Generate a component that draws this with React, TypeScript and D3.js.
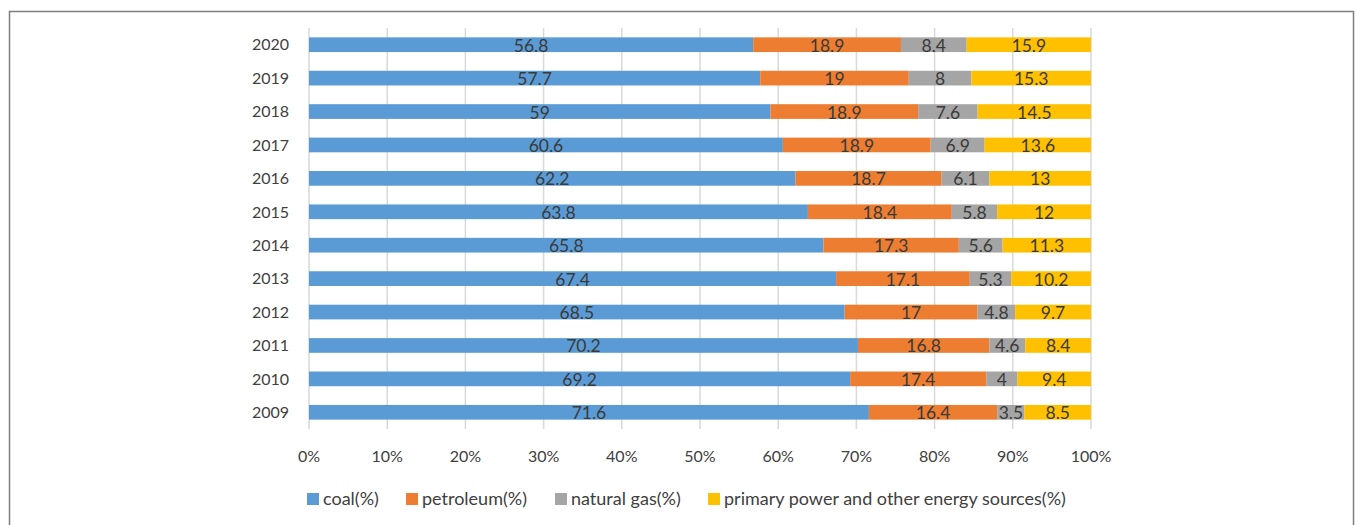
import React from 'react';
import * as d3 from 'd3';

const years = ['2020', '2019', '2018', '2017', '2016', '2015', '2014', '2013', '2012', '2011', '2010', '2009'];
const coal = [56.8, 57.7, 59, 60.6, 62.2, 63.8, 65.8, 67.4, 68.5, 70.2, 69.2, 71.6];
const petroleum = [18.9, 19, 18.9, 18.9, 18.7, 18.4, 17.3, 17.1, 17, 16.8, 17.4, 16.4];
const naturalGas = [8.4, 8, 7.6, 6.9, 6.1, 5.8, 5.6, 5.3, 4.8, 4.6, 4, 3.5];
const primaryPower = [15.9, 15.3, 14.5, 13.6, 13, 12, 11.3, 10.2, 9.7, 8.4, 9.4, 8.5];
const seriesNames = ['coal(%)', 'petroleum(%)', 'natural gas(%)', 'primary power and other energy sources(%)'];
const seriesColors = ['#5B9BD5', '#ED7D31', '#A5A5A5', '#FFC000'];
const xTicks = [0, 0.1, 0.2, 0.3, 0.4, 0.5, 0.6, 0.7, 0.8, 0.9, 1];

const W = 1357;
const H = 525;
const font = 'Lato, "Open Sans", sans-serif';

export default function App() {
  const seriesValues = [coal, petroleum, naturalGas, primaryPower];
  const rows = years.map((y, i) => {
    const row: Record<string, number | string> = { year: y };
    seriesNames.forEach((s, k) => { row[s] = seriesValues[k][i]; });
    return row;
  });
  const stack = d3.stack<Record<string, number | string>>()
    .keys(seriesNames)
    .value((d, key) => (d[key] as number) / d3.sum(seriesNames, k => d[k] as number));
  const stacked = stack(rows);

  const x = d3.scaleLinear().domain([0, 1]).range([309, 1091]);
  const y = d3.scaleBand().domain(years).range([28, 429]).paddingInner(0.56).paddingOuter(0.28);
  const fmt = d3.format('.0%');

  // legend layout
  const legendX = [307, 406, 555, 708];

  return (
    <div style={{ position: 'fixed', left: 0, top: 0 }}>
      <svg width={W} height={H} style={{ display: 'block', background: '#fff' }}>
        <rect x={9.5} y={11.5} width={1344} height={H + 20} fill="none" stroke="#7f7f7f" strokeWidth={1.5} />
        {xTicks.map(t => (
          <line key={t} x1={x(t)} x2={x(t)} y1={28} y2={429} stroke="#d9d9d9" strokeWidth={1.5} />
        ))}
        {stacked.map((layer, k) => (
          <g key={layer.key}>
            {layer.map((d, i) => (
              <rect
                key={years[i]}
                x={x(d[0])}
                y={y(years[i])}
                width={x(d[1]) - x(d[0])}
                height={y.bandwidth()}
                fill={seriesColors[k]}
              />
            ))}
          </g>
        ))}
        {stacked.map((layer, k) => (
          <g key={layer.key + '-lbl'}>
            {layer.map((d, i) => (
              <text
                key={years[i]}
                x={(x(d[0]) + x(d[1])) / 2}
                y={(y(years[i]) || 0) + y.bandwidth() / 2}
                dy="0.4em"
                textAnchor="middle"
                fontFamily={font}
                fontSize={17.5}
                fill="#3a3a3a"
              >
                {seriesValues[k][i]}
              </text>
            ))}
          </g>
        ))}
        {years.map(yr => (
          <text
            key={yr}
            x={289}
            y={(y(yr) || 0) + y.bandwidth() / 2}
            dy="0.36em"
            textAnchor="end"
            fontFamily={font}
            fontSize={16}
            fill="#404040"
          >
            {yr}
          </text>
        ))}
        {xTicks.map(t => (
          <text
            key={'t' + t}
            x={x(t)}
            y={456}
            dy="0.36em"
            textAnchor="middle"
            fontFamily={font}
            fontSize={16}
            fill="#404040"
          >
            {fmt(t)}
          </text>
        ))}
        {seriesNames.map((s, k) => (
          <g key={s} transform={`translate(${legendX[k]},${499})`}>
            <rect x={0} y={-6} width={12} height={12} fill={seriesColors[k]} />
            <text x={16} y={0} dy="0.36em" fontFamily={font} fontSize={18} fill="#404040">
              {s}
            </text>
          </g>
        ))}
      </svg>
    </div>
  );
}
